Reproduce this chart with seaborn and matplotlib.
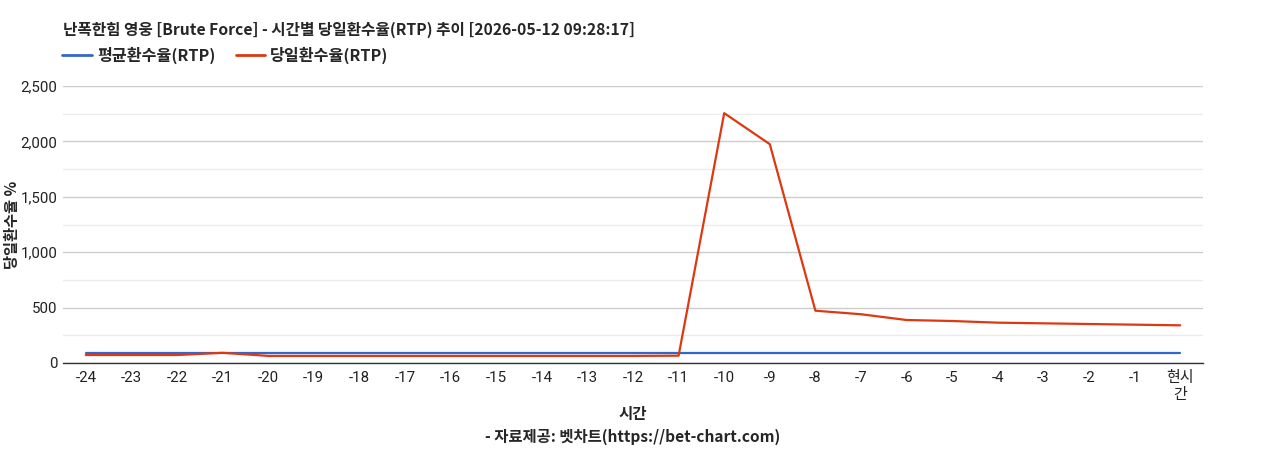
import matplotlib.pyplot as plt
import matplotlib.ticker as mticker
import seaborn as sns
import pandas as pd

# 시간대 (카테고리)
hours = ["-24", "-23", "-22", "-21", "-20", "-19", "-18", "-17", "-16", "-15",
         "-14", "-13", "-12", "-11", "-10", "-9", "-8", "-7", "-6", "-5",
         "-4", "-3", "-2", "-1", "현시\n간"]

# 평균환수율 / 당일환수율 값
avg_rtp = [93] * 25
day_rtp = [72, 72, 72, 92, 64, 64, 64, 64, 64, 64,
           64, 64, 64, 66, 2255, 1975, 472, 440, 388, 379,
           364, 358, 352, 346, 340]

series_names = ["평균환수율(RTP)", "당일환수율(RTP)"]
colors = ["#3366CC", "#DC3912"]

df = pd.concat([
    pd.DataFrame({"hour": hours, "rtp": avg_rtp, "series": series_names[0]}),
    pd.DataFrame({"hour": hours, "rtp": day_rtp, "series": series_names[1]}),
])

sns.set_theme(style="white")
plt.rcParams["font.family"] = ["Roboto", "Noto Sans CJK KR", "DejaVu Sans"]
kr = ["Noto Sans CJK KR", "DejaVu Sans"]

fig = plt.figure(figsize=(12.68, 4.5), dpi=100)
ax = fig.add_axes([63 / 1268, 1 - 363 / 450, 1140 / 1268, 277 / 450])

sns.lineplot(data=df, x="hour", y="rtp", hue="series", palette=colors,
             linewidth=1.6, ax=ax, legend=False, sort=False)

ax.set_xlim(-0.5, len(hours) - 0.5)
ax.set_ylim(0, 2500)
ax.yaxis.set_major_locator(mticker.MultipleLocator(500))
ax.yaxis.set_minor_locator(mticker.MultipleLocator(250))
ax.yaxis.set_major_formatter(mticker.FuncFormatter(lambda v, p: f"{int(v):,}"))
ax.grid(axis="y", which="major", color="#cccccc", linewidth=1)
ax.grid(axis="y", which="minor", color="#ebebeb", linewidth=1)
ax.set_axisbelow(True)
for s in ["left", "right", "top"]:
    ax.spines[s].set_visible(False)
ax.spines["bottom"].set_color("#333333")
ax.spines["bottom"].set_linewidth(1)
ax.tick_params(axis="both", length=0, labelsize=10.8, colors="#222222")
ax.tick_params(axis="x", pad=6)
ax.tick_params(axis="y", pad=4)
for lbl in ax.get_xticklabels():
    lbl.set_family(["Roboto", "Noto Sans CJK KR"])

ax.set_xlabel("")
ax.set_ylabel("")
fig.text(12 / 1268, 1 - 225 / 450, "당일환수율 %", rotation=90, ha="center", va="center",
         fontsize=11, fontweight="bold", family=kr)
fig.text(633 / 1268, 1 - 414 / 450, "시간", ha="center", va="center",
         fontsize=11.2, fontweight="bold", family=kr)
fig.text(633 / 1268, 1 - 437 / 450, "- 자료제공: 벳차트(https://bet-chart.com)", ha="center",
         va="center", fontsize=11.1, fontweight="bold", family=kr)

fig.text(63 / 1268, 1 - 30 / 450,
         "난폭한힘 영웅 [Brute Force] - 시간별 당일환수율(RTP) 추이 [2026-05-12 09:28:17]",
         ha="left", va="center", fontsize=11.3, fontweight="bold", family=kr)

handles = [plt.Line2D([], [], color=c, linewidth=2) for c in colors]
leg = fig.legend(handles, series_names, loc="center left",
                 bbox_to_anchor=(56 / 1268, 1 - 55 / 450), ncol=2, frameon=False,
                 handlelength=1.85, handletextpad=0.3, columnspacing=1.25,
                 borderpad=0.4, borderaxespad=0,
                 prop={"family": kr, "weight": "bold", "size": 11.6})

fig.savefig("out.png", dpi=100)
